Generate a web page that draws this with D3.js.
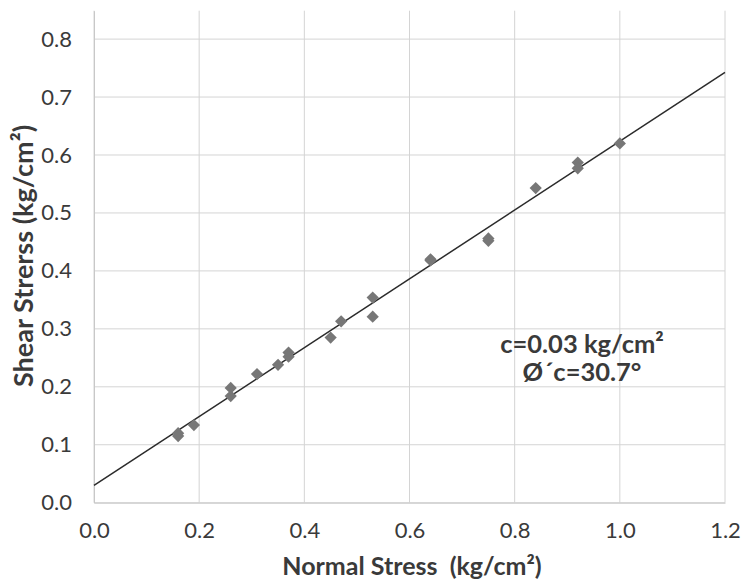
<!DOCTYPE html>
<html>
<head>
<meta charset="utf-8">
<script src="https://cdn.jsdelivr.net/npm/d3@7"></script>
<style>
  body { margin: 0; background: #fff; }
  text { font-family: Lato, "Open Sans", sans-serif; fill: #3a3a3a; white-space: pre; }
</style>
</head>
<body>
<svg id="chart" width="744" height="583"></svg>
<script>
// normal stress (kg/cm2) of each test point
const normalStress = [0.16, 0.16, 0.19, 0.26, 0.26, 0.31, 0.35, 0.37, 0.37, 0.45, 0.47, 0.53, 0.53, 0.64, 0.64, 0.75, 0.75, 0.84, 0.92, 0.92, 1.0];
// shear stress (kg/cm2) of each test point
const shearStress  = [0.12, 0.115, 0.134, 0.198, 0.184, 0.222, 0.238, 0.259, 0.252, 0.285, 0.313, 0.354, 0.321, 0.42, 0.418, 0.452, 0.456, 0.543, 0.587, 0.577, 0.62];

const cohesion = 0.03;      // kg/cm2
const frictionAngle = 30.7; // degrees
const xTicks = [0, 0.2, 0.4, 0.6, 0.8, 1.0, 1.2];
const yTicks = [0, 0.1, 0.2, 0.3, 0.4, 0.5, 0.6, 0.7, 0.8];

const svg = d3.select("#chart");
const plotL = 94, plotR = 725, plotT = 10.7, plotB = 502.7;

const x = d3.scaleLinear().domain([0, 1.2]).range([plotL, plotR]);
const y = d3.scaleLinear().domain([0, 0.849]).range([plotB, plotT]);

// gridlines
svg.append("g").selectAll("line").data(xTicks).join("line")
  .attr("x1", d => x(d)).attr("x2", d => x(d))
  .attr("y1", plotT).attr("y2", plotB)
  .attr("stroke", "#d4d4d4").attr("stroke-width", 1);
svg.append("g").selectAll("line").data(yTicks).join("line")
  .attr("x1", plotL).attr("x2", plotR)
  .attr("y1", d => y(d)).attr("y2", d => y(d))
  .attr("stroke", "#d4d4d4").attr("stroke-width", 1);

// axes (labels only, lines come from the grid)
const xAxis = svg.append("g").attr("transform", `translate(0,${plotB})`)
  .call(d3.axisBottom(x).tickValues(xTicks).tickFormat(d3.format(".1f")).tickSize(0).tickPadding(20));
const yAxis = svg.append("g").attr("transform", `translate(${plotL},0)`)
  .call(d3.axisLeft(y).tickValues(yTicks).tickFormat(d3.format(".1f")).tickSize(0).tickPadding(22));
[xAxis, yAxis].forEach(a => {
  a.select(".domain").attr("stroke", "#c8c8c8");
  a.selectAll("text").attr("font-size", 22).attr("fill", "#3a3a3a")
    .attr("font-family", "Lato, 'Open Sans', sans-serif");
});

// failure envelope
const line = d3.line().x(d => x(d)).y(d => y(cohesion + Math.tan(frictionAngle * Math.PI / 180) * d));
svg.append("path").attr("d", line([0, 1.2]))
  .attr("fill", "none").attr("stroke", "#2b2b2b").attr("stroke-width", 1.5);

// points
const diamond = d3.symbol().type(d3.symbolSquare).size(75);
svg.append("g").selectAll("path").data(normalStress).join("path")
  .attr("d", diamond)
  .attr("transform", (d, i) => `translate(${x(d)},${y(shearStress[i])}) rotate(45)`)
  .attr("fill", "#777");

// axis titles
svg.append("text").attr("x", 412).attr("y", 575)
  .attr("text-anchor", "middle").attr("font-size", 25).attr("font-weight", "bold")
  .text("Normal Stress  (kg/cm²)");
svg.append("text").attr("transform", "translate(33,256) rotate(-90)")
  .attr("text-anchor", "middle").attr("font-size", 27).attr("font-weight", "bold")
  .text("Shear Strerss (kg/cm²)");

// annotation
svg.append("text").attr("x", 582).attr("y", 353).attr("text-anchor", "middle")
  .attr("font-size", 25.5).attr("font-weight", "bold").text("c=0.03 kg/cm²");
svg.append("text").attr("x", 582).attr("y", 381).attr("text-anchor", "middle")
  .attr("font-size", 25.5).attr("font-weight", "bold").text("Ø´c=30.7°");
</script>
</body>
</html>
